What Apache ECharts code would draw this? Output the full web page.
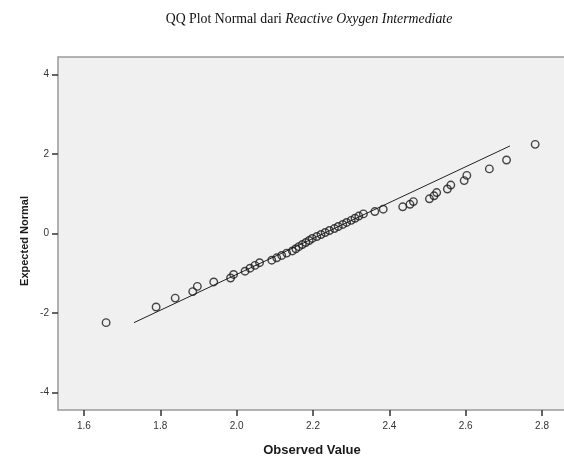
<!DOCTYPE html>
<html>
<head>
<meta charset="utf-8">
<script src="https://cdn.jsdelivr.net/npm/echarts@6/dist/echarts.min.js"></script>
<style>
html,body{margin:0;padding:0;background:#fff;}
#chart{width:564px;height:457px;}
</style>
</head>
<body>
<div id="chart"></div>
<script>
var observedValues = [
  1.658, 1.789, 1.839, 1.885, 1.897, 1.940, 1.984, 1.992, 2.022, 2.035,
  2.048, 2.060, 2.092, 2.105, 2.118, 2.131, 2.146, 2.155, 2.163, 2.172,
  2.181, 2.190, 2.198, 2.210, 2.221, 2.232, 2.243, 2.256, 2.266, 2.278,
  2.288, 2.300, 2.310, 2.320, 2.332, 2.362, 2.384, 2.435, 2.454, 2.463,
  2.505, 2.517, 2.524, 2.552, 2.561, 2.596, 2.603, 2.662, 2.707, 2.782
];
var expectedNormal = [
  -2.240, -1.847, -1.623, -1.460, -1.329, -1.217, -1.118, -1.029, -0.948, -0.872,
  -0.802, -0.734, -0.671, -0.610, -0.551, -0.493, -0.438, -0.383, -0.330, -0.278,
  -0.227, -0.176, -0.125, -0.075, -0.025, 0.025, 0.075, 0.125, 0.176, 0.227,
  0.278, 0.330, 0.383, 0.438, 0.493, 0.551, 0.610, 0.671, 0.734, 0.802,
  0.872, 0.948, 1.029, 1.118, 1.217, 1.329, 1.460, 1.623, 1.847, 2.240
];
// Reference line end points
var refLineX = [1.731, 2.716];
var refLineY = [-2.24, 2.20];
// Tick labels
var xTicks = [1.6, 1.8, 2.0, 2.2, 2.4, 2.6, 2.8];
var yTicks = [-4, -2, 0, 2, 4];

var points = observedValues.map(function (v, i) { return [v, expectedNormal[i]]; });
var linePts = refLineX.map(function (v, i) { return [v, refLineY[i]]; });

var chart = echarts.init(document.getElementById('chart'));
var narrow = '"Liberation Sans Narrow", "Arial Narrow", "Liberation Sans", Arial, sans-serif';
chart.setOption({
  animation: false,
  backgroundColor: '#ffffff',
  grid: {
    left: 58, top: 57, bottom: 47, right: -4,
    show: true, backgroundColor: '#f0f0f0', borderColor: '#9a9a9a', borderWidth: 1.5,
    containLabel: false, outerBoundsMode: 'none'
  },
  graphic: [
    {
      type: 'text', x: 309, y: 19,
      style: {
        text: '{a|QQ Plot Normal dari }{b|Reactive Oxygen Intermediate}',
        align: 'center', verticalAlign: 'middle',
        rich: {
          a: { fontFamily: '"Liberation Serif", "Times New Roman", serif', fontSize: 13.8, fill: '#111' },
          b: { fontFamily: '"Liberation Serif", "Times New Roman", serif', fontSize: 13.8, fontStyle: 'italic', fill: '#111' }
        }
      }
    },
    {
      type: 'text', x: 25, y: 241, rotation: Math.PI / 2,
      style: {
        text: 'Expected Normal', align: 'center', verticalAlign: 'middle',
        font: 'bold 11px ' + narrow, fill: '#1a1a1a'
      }
    },
    {
      type: 'text', x: 312, y: 450,
      style: {
        text: 'Observed Value', align: 'center', verticalAlign: 'middle',
        font: 'bold 13px ' + narrow, fill: '#1a1a1a'
      }
    }
  ],
  xAxis: {
    type: 'value', min: 1.532, max: 2.868,
    axisLine: { show: false, onZero: false },
    splitLine: { show: false },
    axisTick: { show: true, length: 6, customValues: xTicks, lineStyle: { color: '#333', width: 1.5 } },
    axisLabel: {
      customValues: xTicks, margin: 11, color: '#333', fontSize: 10, fontFamily: narrow,
      formatter: function (v) { return v.toFixed(1); }
    }
  },
  yAxis: {
    type: 'value', min: -4.435, max: 4.435,
    axisLine: { show: false, onZero: false },
    splitLine: { show: false },
    axisTick: { show: true, length: 6, customValues: yTicks, lineStyle: { color: '#333', width: 1.5 } },
    axisLabel: {
      customValues: yTicks, margin: 9, color: '#333', fontSize: 10, fontFamily: narrow,
      formatter: function (v) { return String(Math.round(v)); }
    }
  },
  series: [
    {
      type: 'line', data: linePts, symbol: 'none', silent: true,
      lineStyle: { color: '#222', width: 1 }, z: 2
    },
    {
      type: 'scatter', data: points, symbol: 'circle', symbolSize: 7.5,
      itemStyle: { color: 'rgba(0,0,0,0)', borderColor: '#1a1a1a', borderWidth: 1.4 }, z: 3
    }
  ]
});
</script>
</body>
</html>
